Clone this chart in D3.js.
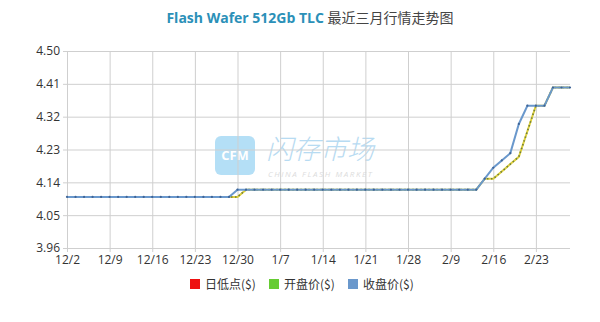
<!DOCTYPE html>
<html>
<head>
<meta charset="utf-8">
<script src="https://cdn.jsdelivr.net/npm/d3@7"></script>
<style>
  body { margin: 0; background: #fff; }
  text { font-family: "Open Sans", "Noto Sans CJK SC", sans-serif; }
</style>
</head>
<body>
<div id="chart-area"></div>
<script>
// trading days, one point each
const dates = [
  "12/2", "12/3", "12/4", "12/5", "12/6",
  "12/9", "12/10", "12/11", "12/12", "12/13",
  "12/16", "12/17", "12/18", "12/19", "12/20",
  "12/23", "12/24", "12/25", "12/26", "12/27",
  "12/30", "12/31", "1/2", "1/3", "1/6",
  "1/7", "1/8", "1/9", "1/10", "1/13",
  "1/14", "1/15", "1/16", "1/17", "1/20",
  "1/21", "1/22", "1/23", "1/24", "1/27",
  "1/28", "2/5", "2/6", "2/7", "2/8",
  "2/9", "2/10", "2/11", "2/12", "2/13",
  "2/16", "2/17", "2/18", "2/19", "2/20",
  "2/23", "2/24", "2/25", "2/26", "2/27"
];

const closeVals = [
  4.10, 4.10, 4.10, 4.10, 4.10, 4.10, 4.10, 4.10, 4.10, 4.10,
  4.10, 4.10, 4.10, 4.10, 4.10, 4.10, 4.10, 4.10, 4.10, 4.10,
  4.12, 4.12, 4.12, 4.12, 4.12, 4.12, 4.12, 4.12, 4.12, 4.12,
  4.12, 4.12, 4.12, 4.12, 4.12, 4.12, 4.12, 4.12, 4.12, 4.12,
  4.12, 4.12, 4.12, 4.12, 4.12, 4.12, 4.12, 4.12, 4.12, 4.15,
  4.18, 4.20, 4.22, 4.30, 4.35, 4.35, 4.35, 4.40, 4.40, 4.40
];

const openVals = [
  4.10, 4.10, 4.10, 4.10, 4.10, 4.10, 4.10, 4.10, 4.10, 4.10,
  4.10, 4.10, 4.10, 4.10, 4.10, 4.10, 4.10, 4.10, 4.10, 4.10,
  4.10, 4.12, 4.12, 4.12, 4.12, 4.12, 4.12, 4.12, 4.12, 4.12,
  4.12, 4.12, 4.12, 4.12, 4.12, 4.12, 4.12, 4.12, 4.12, 4.12,
  4.12, 4.12, 4.12, 4.12, 4.12, 4.12, 4.12, 4.12, 4.12, 4.15,
  4.15, 4.17, 4.19, 4.21, 4.28, 4.35, 4.35, 4.40, 4.40, 4.40
];

const lowVals = openVals.slice();

const yTicks = [3.96, 4.05, 4.14, 4.23, 4.32, 4.41, 4.50];

const seriesNames = ["日低点($)", "开盘价($)", "收盘价($)"];
const seriesColors = ["#ee1111", "#66cc33", "#6a98cc"];

const width = 600, height = 322;
const margin = {left: 67, right: 30, top: 51, bottom: 74};

const svg = d3.select("#chart-area")
  .append("svg")
  .attr("width", width)
  .attr("height", height);

const x = d3.scalePoint()
  .domain(d3.range(dates.length))
  .range([margin.left, width - margin.right]);

const y = d3.scaleLinear()
  .domain([3.96, 4.50])
  .range([height - margin.bottom, margin.top]);

// title
const title = svg.append("text")
  .attr("x", 310)
  .attr("y", 23)
  .attr("text-anchor", "middle")
  .style("font-size", "14px");
title.append("tspan")
  .attr("fill", "#2b90b8")
  .attr("font-weight", "bold")
  .text("Flash Wafer 512Gb TLC ");
title.append("tspan")
  .attr("fill", "#444")
  .style("font-family", "'Noto Sans CJK SC', sans-serif")
  .text("最近三月行情走势图");

// watermark
const wm = svg.append("g").attr("opacity", 0.5);
wm.append("rect")
  .attr("x", 215).attr("y", 136)
  .attr("width", 40).attr("height", 39)
  .attr("rx", 6)
  .attr("fill", "#6cc0ee");
wm.append("text")
  .attr("x", 235).attr("y", 160)
  .attr("text-anchor", "middle")
  .attr("fill", "#fff")
  .attr("font-weight", "bold")
  .style("font-size", "13px")
  .text("CFM");
wm.append("text")
  .attr("x", 266).attr("y", 159)
  .attr("fill", "#72b8e6")
  .attr("font-style", "italic")
  .style("font-family", "'Noto Sans CJK SC', sans-serif")
  .style("font-weight", 300)
  .style("font-size", "27px")
  .text("闪存市场");
wm.append("text")
  .attr("x", 268).attr("y", 177)
  .attr("fill", "#bbb")
  .attr("font-style", "italic")
  .style("font-size", "8px")
  .style("letter-spacing", "1.6px")
  .text("CHINA FLASH MARKET");

// grid + axes
const tickIdx = d3.range(0, dates.length, 5);

const yAxis = svg.append("g")
  .attr("transform", `translate(${margin.left},0)`)
  .call(d3.axisLeft(y)
    .tickValues(yTicks)
    .tickFormat(d3.format(".2f"))
    .tickSizeInner(-(width - margin.right - margin.left))
    .tickSizeOuter(0)
    .tickPadding(7));
yAxis.select(".domain").remove();
yAxis.selectAll(".tick line")
  .attr("x1", -4)
  .attr("stroke", "#cfcfcf");
yAxis.selectAll(".tick text")
  .attr("fill", "#333")
  .style("font-size", "12px");

const xAxis = svg.append("g")
  .attr("transform", `translate(0,${height - margin.bottom})`)
  .call(d3.axisBottom(x)
    .tickValues(tickIdx)
    .tickFormat(i => dates[i])
    .tickSizeInner(-(height - margin.bottom - margin.top))
    .tickSizeOuter(0)
    .tickPadding(7));
xAxis.select(".domain").remove();
xAxis.selectAll(".tick line")
  .attr("y1", 4)
  .attr("stroke", "#cfcfcf");
xAxis.selectAll(".tick text")
  .attr("fill", "#333")
  .style("font-size", "12px");

// lines
const line = d3.line()
  .x((d, i) => x(i))
  .y(d => y(d));

// low + open overlap: yellow line with dark dots
svg.append("path")
  .datum(lowVals)
  .attr("fill", "none")
  .attr("stroke", "#dccf3c")
  .attr("stroke-width", 2)
  .attr("d", line);

svg.append("path")
  .datum(openVals)
  .attr("fill", "none")
  .attr("stroke", "#6f7d3a")
  .attr("stroke-width", 1.6)
  .attr("stroke-dasharray", "1.5,2.5")
  .attr("d", line);

svg.append("path")
  .datum(closeVals)
  .attr("fill", "none")
  .attr("stroke", seriesColors[2])
  .attr("stroke-width", 2)
  .attr("d", line);

svg.append("g")
  .selectAll("circle")
  .data(closeVals)
  .join("circle")
  .attr("cx", (d, i) => x(i))
  .attr("cy", d => y(d))
  .attr("r", 1.1)
  .attr("fill", "#3f6496");

// legend
const legend = svg.append("g")
  .selectAll("g")
  .data(seriesNames)
  .join("g")
  .attr("transform", (d, i) => `translate(${190 + i * 79},279)`);
legend.append("rect")
  .attr("width", 10)
  .attr("height", 10)
  .attr("fill", (d, i) => seriesColors[i]);
legend.append("text")
  .attr("x", 15)
  .attr("y", 9.5)
  .attr("fill", "#333")
  .style("font-family", "'Noto Sans CJK SC', sans-serif")
  .style("font-size", "12px")
  .text(d => d);
</script>
</body>
</html>
